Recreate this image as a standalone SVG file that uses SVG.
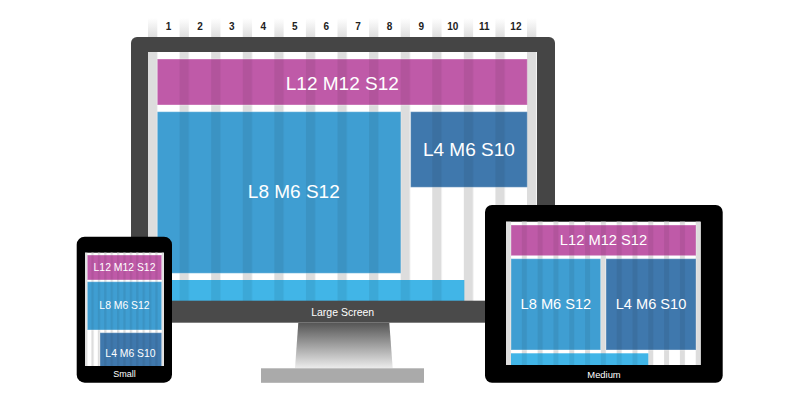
<svg xmlns="http://www.w3.org/2000/svg" width="800" height="400" viewBox="0 0 800 400">
<defs>
  <style>
    .lbl{font-family:"Liberation Sans",Arial,sans-serif;fill:#fff;text-anchor:middle}
    .num{font-family:"Liberation Sans",Arial,sans-serif;font-weight:bold;font-size:10px;fill:#222;text-anchor:middle}
    .pink{fill:#bf5aa8}
    .blue{fill:#3f9ed2}
    .dblue{fill:#3f78ad}
    .lblue{fill:#41b5e7}
    .box{stroke:rgba(255,255,255,0.35);stroke-width:1}
    .top{fill:url(#fade)}
  </style>
  <linearGradient id="fade" x1="0" y1="0" x2="0" y2="1">
    <stop offset="0" stop-color="#ffffff"/>
    <stop offset="1" stop-color="#dedede"/>
  </linearGradient>
  <linearGradient id="stand" x1="0" y1="0" x2="0" y2="1">
    <stop offset="0" stop-color="#555555"/>
    <stop offset="1" stop-color="#ececec"/>
  </linearGradient>
  <pattern id="gL" patternUnits="userSpaceOnUse" x="148" y="0" width="31.583" height="400">
    <rect x="0" y="0" width="9.3" height="400" fill="#dddddd"/>
  </pattern>
  <pattern id="dL" patternUnits="userSpaceOnUse" x="148" y="0" width="31.583" height="400">
    <rect x="0" y="0" width="9.3" height="400" fill="rgba(0,0,0,0.07)"/>
  </pattern>
  <pattern id="gM" patternUnits="userSpaceOnUse" x="506" y="0" width="15.81" height="400">
    <rect x="0" y="0" width="5" height="400" fill="#dddddd"/>
  </pattern>
  <pattern id="dM" patternUnits="userSpaceOnUse" x="506" y="0" width="15.81" height="400">
    <rect x="0" y="0" width="5" height="400" fill="rgba(0,0,0,0.07)"/>
  </pattern>
  <pattern id="gS" patternUnits="userSpaceOnUse" x="85" y="0" width="6.392" height="400">
    <rect x="0" y="0" width="2.3" height="400" fill="#dddddd"/>
  </pattern>
  <pattern id="dS" patternUnits="userSpaceOnUse" x="85" y="0" width="6.392" height="400">
    <rect x="0" y="0" width="2.3" height="400" fill="rgba(0,0,0,0.07)"/>
  </pattern>
  <clipPath id="clipS"><rect x="85" y="252.7" width="79" height="113.3"/></clipPath>
  <clipPath id="clipM"><rect x="506" y="221.7" width="194.7" height="143.3"/></clipPath>
</defs>

<g id="column-header">
  <rect class="top" x="148" y="18" width="9.3" height="19"/>
  <rect class="top" x="179.58" y="18" width="9.3" height="19"/>
  <rect class="top" x="211.17" y="18" width="9.3" height="19"/>
  <rect class="top" x="242.75" y="18" width="9.3" height="19"/>
  <rect class="top" x="274.33" y="18" width="9.3" height="19"/>
  <rect class="top" x="305.92" y="18" width="9.3" height="19"/>
  <rect class="top" x="337.5" y="18" width="9.3" height="19"/>
  <rect class="top" x="369.08" y="18" width="9.3" height="19"/>
  <rect class="top" x="400.67" y="18" width="9.3" height="19"/>
  <rect class="top" x="432.25" y="18" width="9.3" height="19"/>
  <rect class="top" x="463.83" y="18" width="9.3" height="19"/>
  <rect class="top" x="495.42" y="18" width="9.3" height="19"/>
  <rect class="top" x="527" y="18" width="9.3" height="19"/>
  <text class="num" x="168.5" y="30">1</text>
  <text class="num" x="200.1" y="30">2</text>
  <text class="num" x="231.7" y="30">3</text>
  <text class="num" x="263.2" y="30">4</text>
  <text class="num" x="294.8" y="30">5</text>
  <text class="num" x="326.4" y="30">6</text>
  <text class="num" x="358" y="30">7</text>
  <text class="num" x="389.6" y="30">8</text>
  <text class="num" x="421.2" y="30">9</text>
  <text class="num" x="452.7" y="30">10</text>
  <text class="num" x="484.3" y="30">11</text>
  <text class="num" x="515.9" y="30">12</text>
</g>

<g id="large-screen">
  <rect x="131" y="37" width="424" height="275" rx="6" fill="#454545"/>
  <rect x="148" y="52" width="389" height="249" fill="#ffffff"/>
  <rect x="148" y="52" width="389" height="249" fill="url(#gL)"/>
  <g id="large-l12">
    <rect class="pink box" x="157.3" y="59" width="370" height="46"/>
    <rect x="157.3" y="59" width="370" height="46" fill="url(#dL)"/>
    <text class="lbl" x="342.3" y="89.5" font-size="19">L12 M12 S12</text>
  </g>
  <g id="large-l8">
    <rect class="blue box" x="157.3" y="111.7" width="243.6" height="161.6"/>
    <rect x="157.3" y="111.7" width="243.6" height="161.6" fill="url(#dL)"/>
    <text class="lbl" x="293.8" y="197.5" font-size="19">L8 M6 S12</text>
  </g>
  <g id="large-l4">
    <rect class="dblue box" x="410.6" y="111.7" width="116.7" height="75.6"/>
    <rect x="410.6" y="111.7" width="116.7" height="75.6" fill="url(#dL)"/>
    <text class="lbl" x="468.9" y="156" font-size="19">L4 M6 S10</text>
  </g>
  <g id="large-bar">
    <rect class="lblue" x="157.3" y="280" width="307" height="21"/>
    <rect x="157.3" y="280" width="307" height="21" fill="url(#dL)"/>
  </g>
  <rect x="131" y="300.7" width="424" height="22" fill="#4a4a4a"/>
  <text class="lbl" x="342.7" y="315.5" font-size="10.5">Large Screen</text>
  <polygon points="298.3,322.7 389.3,322.7 392.7,368.3 295,368.3" fill="url(#stand)"/>
  <rect x="261" y="368.3" width="163" height="14.5" fill="#aaaaaa"/>
</g>

<g id="small-device">
  <rect x="76.7" y="236.7" width="95.3" height="146" rx="8" fill="#000000"/>
  <rect x="85" y="252.7" width="79" height="113.3" fill="#ffffff"/>
  <rect x="85" y="252.7" width="79" height="113.3" fill="url(#gS)"/>
  <g clip-path="url(#clipS)">
    <g id="small-l12">
      <rect class="pink box" x="87.3" y="255" width="74.4" height="25"/>
      <rect x="87.3" y="255" width="74.4" height="25" fill="url(#dS)"/>
      <text class="lbl" x="124.5" y="271" font-size="10.4">L12 M12 S12</text>
    </g>
    <g id="small-l8">
      <rect class="blue box" x="87.3" y="281.7" width="74.4" height="48.3"/>
      <rect x="87.3" y="281.7" width="74.4" height="48.3" fill="url(#dS)"/>
      <text class="lbl" x="124.5" y="309.4" font-size="10.4">L8 M6 S12</text>
    </g>
    <g id="small-l4">
      <rect class="dblue box" x="100" y="332.7" width="61.7" height="40"/>
      <rect x="100" y="332.7" width="61.7" height="40" fill="url(#dS)"/>
      <text class="lbl" x="130.5" y="357" font-size="10.4">L4 M6 S10</text>
    </g>
  </g>
  <text class="lbl" x="124.5" y="377.3" font-size="9">Small</text>
</g>

<g id="medium-device">
  <rect x="485" y="205" width="237.7" height="177.7" rx="7" fill="#000000"/>
  <rect x="506" y="221.7" width="194.7" height="143.3" fill="#ffffff"/>
  <rect x="506" y="221.7" width="194.7" height="143.3" fill="url(#gM)"/>
  <g clip-path="url(#clipM)">
    <g id="medium-l12">
      <rect class="pink box" x="511" y="225" width="185" height="30.7"/>
      <rect x="511" y="225" width="185" height="30.7" fill="url(#dM)"/>
      <text class="lbl" x="603.5" y="245.4" font-size="14.7">L12 M12 S12</text>
    </g>
    <g id="medium-l8">
      <rect class="blue box" x="511" y="258.7" width="89.7" height="91.3"/>
      <rect x="511" y="258.7" width="89.7" height="91.3" fill="url(#dM)"/>
      <text class="lbl" x="555.9" y="309.3" font-size="14.6">L8 M6 S12</text>
    </g>
    <g id="medium-l4">
      <rect class="dblue box" x="606" y="258.7" width="90" height="91.3"/>
      <rect x="606" y="258.7" width="90" height="91.3" fill="url(#dM)"/>
      <text class="lbl" x="651" y="309.3" font-size="14.6">L4 M6 S10</text>
    </g>
    <g id="medium-bar">
      <rect class="lblue" x="511" y="353.3" width="137.3" height="15"/>
      <rect x="511" y="353.3" width="137.3" height="15" fill="url(#dM)"/>
    </g>
  </g>
  <text class="lbl" x="604" y="377.7" font-size="9.4">Medium</text>
</g>

<g id="connectors"></g>
</svg>
